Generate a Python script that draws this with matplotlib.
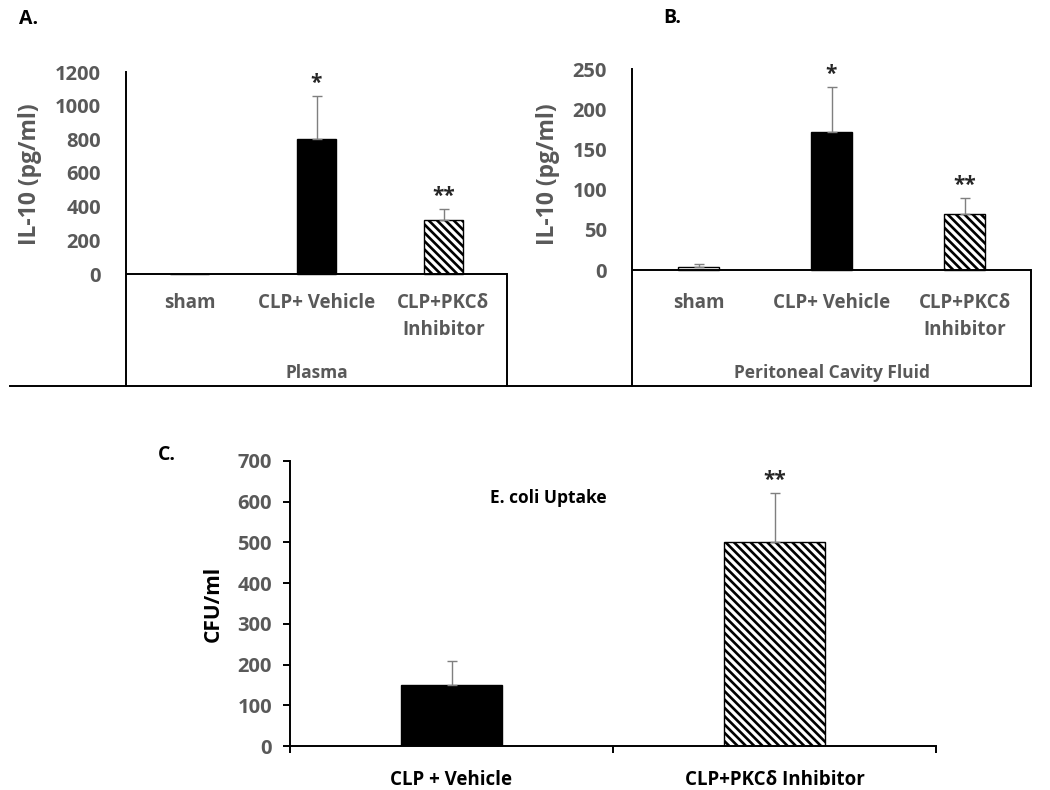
import matplotlib
matplotlib.use("Agg")
import matplotlib.pyplot as plt
from matplotlib.lines import Line2D

plt.rcParams['font.family'] = ['Open Sans', 'DejaVu Sans']
plt.rcParams['font.weight'] = 'bold'
plt.rcParams['axes.labelweight'] = 'bold'
plt.rcParams['hatch.linewidth'] = 1.9

# data
groups_ab = ["sham", "CLP+ Vehicle", "CLP+PKC\u03b4\nInhibitor"]
plasma_mean = [0, 800, 320]
plasma_err = [0, 255, 65]
plasma_stars = ["", "*", "**"]

pcf_mean = [4, 172, 70]
pcf_err = [3, 56, 20]
pcf_stars = ["", "*", "**"]

groups_c = ["CLP + Vehicle", "CLP+PKC\u03b4 Inhibitor"]
ecoli_mean = [150, 500]
ecoli_err = [60, 122]
ecoli_stars = ["", "**"]

GRAY = "#595959"
W, H = 1050, 790
HATCH = "\\\\\\\\"

fig = plt.figure(figsize=(10.5, 7.9), dpi=100)


def px_axes(x0, y0, x1, y1):
    return fig.add_axes([x0 / W, 1 - y1 / H, (x1 - x0) / W, (y1 - y0) / H])


def bars(ax, means, errs, stars, colors, hatches):
    x = list(range(len(means)))
    ax.bar(x, means, width=0.31, color=colors, edgecolor="black",
           linewidth=1.0, hatch=hatches, zorder=2)
    # only draw error bars that have a size
    xe = [i for i in x if errs[i] > 0]
    ax.errorbar(xe, [means[i] for i in xe], yerr=[[0] * len(xe), [errs[i] for i in xe]],
                fmt="none", ecolor="#7f7f7f", elinewidth=1.0, capsize=3.5,
                capthick=1.0, zorder=3)
    for i, s in enumerate(stars):
        if s:
            ax.annotate(s, (i, means[i] + errs[i]), xytext=(0, 9),
                        textcoords="offset points", ha="center", va="center",
                        fontsize=15, color="#262626")


def panel_ab(box, zero_px, top, ticks, means, errs, stars, title, ylab_x):
    x0, y0, x1, y1 = box
    ax = px_axes(*box)
    ylo = -top * (y1 - zero_px) / (zero_px - y0)
    ax.set_ylim(ylo, top)
    ax.set_xlim(-0.5, 2.5)
    bars(ax, means, errs, stars, ["white", "black", "white"], ["", "", HATCH])
    ax.axhline(0, color="black", lw=1.4, zorder=4)
    for sp in ["top", "bottom"]:
        ax.spines[sp].set_visible(False)
    ax.spines["left"].set_linewidth(1.4)
    ax.spines["right"].set_linewidth(1.4)
    ax.spines["right"].set_bounds(ylo, 0)
    ax.set_yticks(ticks)
    ax.tick_params(axis="y", length=0, pad=18, labelsize=14.5, labelcolor=GRAY)
    ax.set_xticks([])
    for i, g in enumerate(groups_ab):
        ax.text(i, (y1 - 293) / (y1 - y0), g, transform=ax.get_xaxis_transform(),
                ha="center", va="top", fontsize=13.5, color=GRAY, linespacing=1.45)
    ax.text(1, 0.04, title, transform=ax.get_xaxis_transform(),
            ha="center", va="center", fontsize=12.5, color=GRAY)
    fig.text(ylab_x / W, 1 - 174 / H, "IL-10 (pg/ml)", rotation=90,
             ha="center", va="center", fontsize=16.5, color=GRAY)
    return ax


# panel A
panel_ab((126, 72, 507, 386), 274, 1200, range(0, 1201, 200),
         plasma_mean, plasma_err, plasma_stars, "Plasma", 30)
# panel B
panel_ab((632, 69, 1031, 386), 270, 250, range(0, 251, 50),
         pcf_mean, pcf_err, pcf_stars, "Peritoneal Cavity Fluid", 548)

# long baseline under A and B
fig.add_artist(Line2D([10 / W, 1031 / W], [1 - 386 / H, 1 - 386 / H],
                      color="black", lw=1.4))

# panel C
axc = px_axes(290, 461, 936, 746)
axc.set_ylim(0, 700)
axc.set_xlim(-0.5, 1.5)
bars(axc, ecoli_mean, ecoli_err, ecoli_stars, ["black", "white"], ["", HATCH])
for sp in ["top", "right"]:
    axc.spines[sp].set_visible(False)
axc.spines["left"].set_linewidth(1.4)
axc.spines["bottom"].set_linewidth(1.4)
axc.set_yticks(range(0, 701, 100))
axc.tick_params(axis="y", length=5, width=1.4, direction="out", pad=8,
                labelsize=14.5, labelcolor=GRAY)
axc.set_xticks([0, 1])
axc.set_xticklabels(groups_c)
axc.set_xticks([-0.5, 0.5, 1.5], minor=True)
axc.tick_params(axis="x", which="major", length=0, pad=17, labelsize=13.5,
                labelcolor="black")
axc.tick_params(axis="x", which="minor", length=5, width=1.4, direction="out")
axc.set_ylabel("CFU/ml", fontsize=15, color="black", labelpad=10)
axc.text(0.40, 0.87, "E. coli Uptake", transform=axc.transAxes,
         ha="center", va="center", fontsize=12.5, color="black")

# panel letters
fig.text(29 / W, 1 - 19 / H, "A.", ha="center", va="center", fontsize=14)
fig.text(672 / W, 1 - 18 / H, "B.", ha="center", va="center", fontsize=14)
fig.text(167 / W, 1 - 455 / H, "C.", ha="center", va="center", fontsize=14)

fig.savefig("out.png", dpi=100, facecolor="white")
